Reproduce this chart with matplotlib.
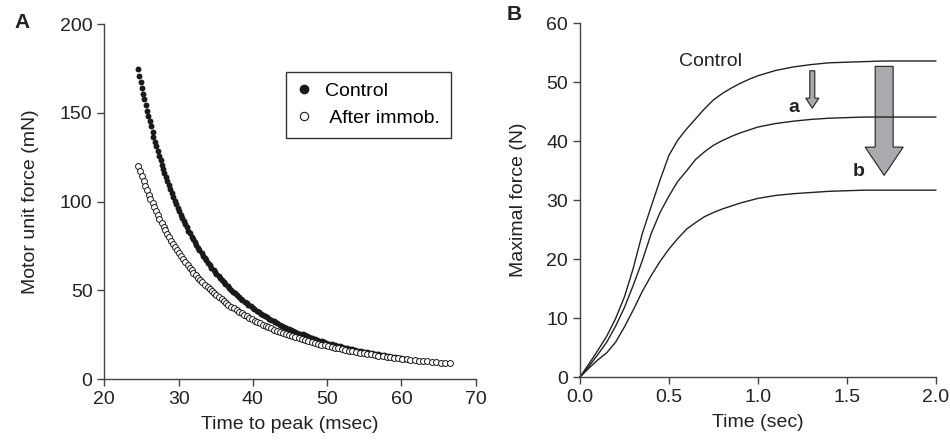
import matplotlib
matplotlib.use("Agg")
import matplotlib.pyplot as plt
from matplotlib.lines import Line2D

plt.rcParams["font.family"] = ["Liberation Sans", "DejaVu Sans"]
plt.rcParams["font.size"] = 14

# panel A: motor units, time to peak (msec) vs force (mN)
ttp_control = [24.6, 24.7, 24.9, 25.1, 25.2, 25.4, 25.6, 25.7, 25.9, 26.1, 26.3, 26.5, 26.6, 26.8, 27.0,
               27.2, 27.4, 27.6, 27.7, 27.9, 28.1, 28.3, 28.5, 28.7, 28.9, 29.1, 29.3, 29.5, 29.7, 29.9,
               30.1, 30.3, 30.5, 30.7, 30.9, 31.1, 31.3, 31.5, 31.8, 32.0, 32.2, 32.4, 32.6, 32.8, 33.1,
               33.3, 33.5, 33.7, 34.0, 34.2, 34.4, 34.7, 34.9, 35.1, 35.4, 35.6, 35.9, 36.1, 36.3, 36.6,
               36.8, 37.1, 37.3, 37.6, 37.9, 38.1, 38.4, 38.6, 38.9, 39.2, 39.4, 39.7, 40.0, 40.2, 40.5,
               40.8, 41.1, 41.3, 41.6, 41.9, 42.2, 42.5, 42.8, 43.0, 43.3, 43.6, 43.9, 44.2, 44.5, 44.8,
               45.1, 45.4, 45.7, 46.0, 46.4, 46.7, 47.0, 47.3, 47.6, 48.0, 48.3, 48.6, 48.9, 49.3, 49.6,
               49.9, 50.3, 50.6, 51.0, 51.3, 51.7, 52.0, 52.4, 52.7, 53.1, 53.4, 53.8, 54.2, 54.5, 54.9,
               55.3, 55.6, 56.0, 56.4, 56.8, 57.2, 57.6, 57.9, 58.3, 58.7, 59.1, 59.5, 59.9, 60.3, 60.8]
force_control = [174.5, 171.0, 167.5, 164.1, 160.8, 157.6, 154.4, 151.3, 148.2, 145.2, 142.3, 139.4,
                 136.6, 133.8, 131.1, 128.4, 125.9, 123.3, 120.8, 118.4, 116.0, 113.6, 111.3, 109.1,
                 106.9, 104.7, 102.6, 100.5, 98.5, 96.5, 94.6, 92.6, 90.8, 88.9, 87.1, 85.4, 83.6, 82.0,
                 80.3, 78.7, 77.1, 75.5, 74.0, 72.5, 71.0, 69.6, 68.2, 66.8, 65.5, 64.1, 62.8, 61.6,
                 60.3, 59.1, 57.9, 56.7, 55.6, 54.5, 53.4, 52.3, 51.2, 50.2, 49.2, 48.2, 47.2, 46.3,
                 45.3, 44.4, 43.5, 42.6, 41.8, 40.9, 40.1, 39.3, 38.5, 37.7, 36.9, 36.2, 35.5, 34.8,
                 34.0, 33.4, 32.7, 32.0, 31.4, 30.7, 30.1, 29.5, 28.9, 28.3, 27.8, 27.2, 26.6, 26.1,
                 25.6, 25.1, 24.6, 24.1, 23.6, 23.1, 22.6, 22.2, 21.7, 21.3, 20.9, 20.4, 20.0, 19.6,
                 19.2, 18.8, 18.4, 18.1, 17.7, 17.4, 17.0, 16.7, 16.3, 16.0, 15.7, 15.4, 15.0, 14.7,
                 14.4, 14.1, 13.9, 13.6, 13.3, 13.0, 12.8, 12.5, 12.3, 12.0, 11.8, 11.5, 11.3]
ttp_immob = [24.6, 24.8, 25.1, 25.3, 25.5, 25.7, 26.0, 26.2, 26.5, 26.7, 26.9, 27.2, 27.4, 27.7, 28.0,
             28.2, 28.5, 28.7, 29.0, 29.3, 29.5, 29.8, 30.1, 30.3, 30.6, 30.9, 31.2, 31.5, 31.8, 32.0,
             32.3, 32.6, 32.9, 33.2, 33.5, 33.9, 34.2, 34.5, 34.8, 35.1, 35.4, 35.8, 36.1, 36.4, 36.7,
             37.1, 37.4, 37.8, 38.1, 38.5, 38.8, 39.2, 39.5, 39.9, 40.3, 40.6, 41.0, 41.4, 41.8, 42.1,
             42.5, 42.9, 43.3, 43.7, 44.1, 44.5, 44.9, 45.3, 45.7, 46.2, 46.6, 47.0, 47.4, 47.9, 48.3,
             48.8, 49.2, 49.7, 50.1, 50.6, 51.0, 51.5, 52.0, 52.4, 52.9, 53.4, 53.9, 54.4, 54.9, 55.4,
             55.9, 56.4, 56.9, 57.5, 58.0, 58.5, 59.0, 59.6, 60.1, 60.7, 61.2, 61.8, 62.4, 62.9, 63.5,
             64.1, 64.7, 65.3, 65.9, 66.5]
force_immob = [120.0, 117.2, 114.4, 111.7, 109.0, 106.4, 103.9, 101.5, 99.1, 96.7, 94.4, 92.2, 90.0,
               87.9, 85.8, 83.8, 81.8, 79.8, 77.9, 76.1, 74.3, 72.5, 70.8, 69.1, 67.5, 65.9, 64.3,
               62.8, 61.3, 59.9, 58.5, 57.1, 55.7, 54.4, 53.1, 51.9, 50.6, 49.4, 48.3, 47.1, 46.0,
               44.9, 43.8, 42.8, 41.8, 40.8, 39.8, 38.9, 38.0, 37.1, 36.2, 35.3, 34.5, 33.7, 32.9,
               32.1, 31.3, 30.6, 29.9, 29.2, 28.5, 27.8, 27.1, 26.5, 25.9, 25.3, 24.7, 24.1, 23.5,
               23.0, 22.4, 21.9, 21.4, 20.9, 20.4, 19.9, 19.4, 18.9, 18.5, 18.1, 17.6, 17.2, 16.8,
               16.4, 16.0, 15.6, 15.3, 14.9, 14.6, 14.2, 13.9, 13.5, 13.2, 12.9, 12.6, 12.3, 12.0,
               11.7, 11.5, 11.2, 10.9, 10.7, 10.4, 10.2, 9.9, 9.7, 9.5, 9.2, 9.0, 8.8]

# panel B: whole muscle force (N) vs time (sec)
t_sec = [0.0, 0.05, 0.10, 0.15, 0.20, 0.25, 0.30, 0.35, 0.40, 0.45, 0.50, 0.55,
         0.60, 0.65, 0.70, 0.75, 0.80, 0.85, 0.90, 0.95, 1.0, 1.1, 1.2, 1.3,
         1.4, 1.5, 1.6, 1.7, 1.8, 1.9, 2.0]
f_control = [0.0, 2.2, 4.5, 6.9, 9.9, 13.6, 18.5, 24.3, 28.9, 33.4, 37.6, 40.2,
             42.1, 43.8, 45.5, 47.0, 48.1, 49.0, 49.8, 50.5, 51.1, 52.0, 52.6,
             53.0, 53.3, 53.4, 53.5, 53.6, 53.6, 53.6, 53.6]
f_a = [0.0, 1.8, 3.8, 5.9, 8.6, 11.8, 15.6, 19.7, 24.3, 27.9, 30.7, 33.2, 35.0,
       36.9, 38.2, 39.3, 40.1, 40.8, 41.4, 41.9, 42.4, 43.0, 43.4, 43.7, 43.9,
       44.0, 44.1, 44.1, 44.1, 44.1, 44.1]
f_b = [0.0, 1.5, 2.9, 4.1, 5.9, 8.5, 11.4, 14.5, 17.2, 19.6, 21.7, 23.5, 25.1,
       26.2, 27.2, 27.9, 28.5, 29.0, 29.5, 29.9, 30.3, 30.8, 31.1, 31.3, 31.5,
       31.6, 31.7, 31.7, 31.7, 31.7, 31.7]

ink = "#222222"
grey = "#a9aaad"


def style(ax):
    for s in ["top", "right"]:
        ax.spines[s].set_visible(False)
    for s in ["left", "bottom"]:
        ax.spines[s].set_color("#444444")
        ax.spines[s].set_linewidth(1.0)
    ax.tick_params(direction="out", length=5, width=1, color="#444444",
                   labelcolor=ink, labelsize=14)


fig = plt.figure(figsize=(9.5, 4.42), dpi=100)

# panel A
ax = fig.add_axes([0.1098, 0.1425, 0.391, 0.803])
ax.scatter(ttp_control, force_control, s=18, c="#1a1a1a", lw=0, clip_on=False)
ax.scatter(ttp_immob, force_immob, s=18, facecolors="white", edgecolors="#1a1a1a",
           lw=0.7, clip_on=False)
ax.set_xlim(20, 70)
ax.set_ylim(0, 200)
ax.set_xticks([20, 30, 40, 50, 60, 70])
ax.set_yticks([0, 50, 100, 150, 200])
style(ax)
ax.set_xlabel("Time to peak (msec)", color=ink, labelpad=6)
ax.set_ylabel("Motor unit force (mN)", color=ink, labelpad=15)
handles = [Line2D([], [], ls="", marker="o", ms=6, mfc="#1a1a1a", mec="#1a1a1a"),
           Line2D([], [], ls="", marker="o", ms=6, mfc="white", mec="#1a1a1a", mew=0.8)]
leg = ax.legend(handles, ["Control", " After immob."], loc="upper left",
                bbox_to_anchor=(0.488, 0.866), fancybox=False, framealpha=1,
                edgecolor="#333333", fontsize=14, handlelength=0.8,
                handletextpad=0.7, borderpad=0.55, labelspacing=0.5,
                borderaxespad=0)
leg.get_frame().set_linewidth(1.0)
fig.text(22 / 950, 1 - 22 / 442, "A", fontsize=15, fontweight="bold",
         color=ink, ha="center", va="center")

# panel B
bx = fig.add_axes([0.6105, 0.147, 0.3745, 0.8003])
bx.plot(t_sec, f_control, color=ink, lw=1.0, clip_on=False)
bx.plot(t_sec, f_a, color=ink, lw=1.0, clip_on=False)
bx.plot(t_sec, f_b, color=ink, lw=1.0, clip_on=False)
bx.set_xlim(0, 2.0)
bx.set_ylim(0, 60)
bx.set_xticks([0.0, 0.5, 1.0, 1.5, 2.0])
bx.set_xticklabels(["0.0", "0.5", "1.0", "1.5", "2.0"])
bx.set_yticks([0, 10, 20, 30, 40, 50, 60])
style(bx)
bx.set_xlabel("Time (sec)", color=ink, labelpad=6)
bx.set_ylabel("Maximal force (N)", color=ink, labelpad=14)
# drop arrows a and b
bx.arrow(1.306, 51.95, 0, -6.35, width=0.028, head_width=0.073,
         head_length=1.7, length_includes_head=True, fc=grey, ec=ink, lw=0.8)
bx.arrow(1.71, 52.7, 0, -18.5, width=0.101, head_width=0.214,
         head_length=4.8, length_includes_head=True, fc=grey, ec=ink, lw=0.8)
bx.text(1.2, 45.7, "a", fontsize=14, fontweight="bold", color=ink,
        ha="center", va="center")
bx.text(1.565, 34.8, "b", fontsize=14, fontweight="bold", color=ink,
        ha="center", va="center")
bx.text(0.731, 53.5, "Control", fontsize=14, color=ink, ha="center", va="center")
fig.text(514 / 950, 1 - 15 / 442, "B", fontsize=15, fontweight="bold",
         color=ink, ha="center", va="center")

fig.savefig("out.png")
